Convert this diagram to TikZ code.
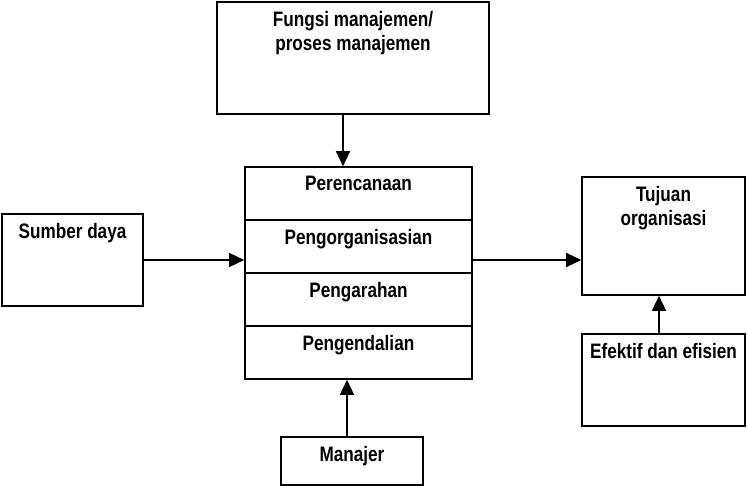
\documentclass[tikz,border=0pt]{standalone}
\usepackage{fontspec}
\setmainfont{Liberation Sans}[FakeStretch=0.82]
\usetikzlibrary{arrows.meta}

\begin{document}
\begin{tikzpicture}[x=1bp,y=-1bp,
  box/.style={draw,line width=1.6bp,inner sep=0},
  txt/.style={anchor=north,inner sep=0,yshift=-9.5bp,align=center,font=\fontsize{21}{25}\selectfont\bfseries},
  arr/.style={-{Triangle[length=15bp,width=14bp]},line width=1.4bp}]
\useasboundingbox (0,0) rectangle (747,486);

\node[box,minimum width=272bp,minimum height=112bp] (fungsi) at (353,58) {};
\node[txt] (fungsi-txt) at (fungsi.north) {Fungsi manajemen/\\proses manajemen};

\foreach \nama/\teks [count=\i] in {rencana/Perencanaan, organisasi/Pengorganisasian, arah/Pengarahan, kendali/Pengendalian}{
  \node[box,minimum width=227bp,minimum height=53bp] (\nama) at (358.5,140.5+53*\i) {};
  \node[txt] (\nama-txt) at (\nama.north) {\teks};
}

\node[box,minimum width=141bp,minimum height=92bp] (sumber) at (72.5,260) {};
\node[txt] (sumber-txt) at (sumber.north) {Sumber daya};

\node[box,minimum width=163bp,minimum height=118bp] (tujuan) at (663.5,236) {};
\node[txt] (tujuan-txt) at (tujuan.north) {Tujuan\\organisasi};

\node[box,minimum width=163bp,minimum height=92bp] (efektif) at (663.5,380) {};
\node[txt] (efektif-txt) at (efektif.north) {Efektif dan efisien};

\node[box,minimum width=142bp,minimum height=48bp] (manajer) at (352,461) {};
\node[txt] (manajer-txt) at (manajer.north) {Manajer};

\draw[arr] ([xshift=-10bp]fungsi.south) -- ([xshift=-10bp]fungsi.south |- rencana.north);
\draw[arr] (sumber.east) -- (sumber.east -| organisasi.west);
\draw[arr] (organisasi.east |- sumber.east) -- (tujuan.west |- sumber.east);
\draw[arr] ([xshift=-4.5bp]efektif.north) -- ([xshift=-4.5bp]tujuan.south);
\draw[arr] ([xshift=-5bp]manajer.north) -- ([xshift=-5bp]manajer.north |- kendali.south);
\end{tikzpicture}
\end{document}
